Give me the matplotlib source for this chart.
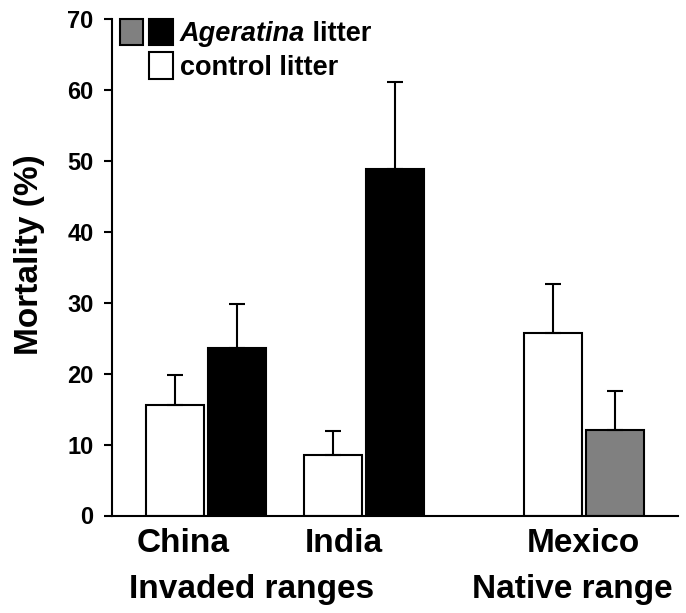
import matplotlib
matplotlib.use("Agg")
import matplotlib.pyplot as plt
from matplotlib.patches import Rectangle
from matplotlib.transforms import blended_transform_factory

plt.rcParams['font.family'] = ['Liberation Sans', 'DejaVu Sans']
plt.rcParams['font.weight'] = 'bold'

# ---- data ----
regions = ["China", "India", "Mexico"]
range_labels = ["Invaded ranges", "Native range"]
control_mean = [15.6, 8.6, 25.8]
control_se = [4.2, 3.3, 6.8]
litter_mean = [23.6, 48.9, 12.0]
litter_se = [6.2, 12.2, 5.5]
litter_colors = ["black", "black", "#808080"]
yticks = [0, 10, 20, 30, 40, 50, 60, 70]

# ---- layout ----
group_x = [1.0, 2.0, 3.39]
width = 0.367
off = 0.197
W, H = 686, 613

fig = plt.figure(figsize=(W / 100, H / 100), dpi=100)
ax = fig.add_axes([111.7 / W, 1 - 515.5 / H, (678 - 111.7) / W, (515.5 - 19) / H])

ctrl_x = [g - off for g in group_x]
lit_x = [g + off for g in group_x]
err_kw = dict(ecolor="black", elinewidth=1.5, capsize=6, capthick=1.5)

ax.bar(ctrl_x, control_mean, width, color="white", edgecolor="black", linewidth=1.5,
       yerr=[[0] * 3, control_se], error_kw=err_kw, zorder=2)
ax.bar(lit_x, litter_mean, width, color=litter_colors, edgecolor="black", linewidth=1.5,
       yerr=[[0] * 3, litter_se], error_kw=err_kw, zorder=2)

ax.set_xlim(0.403, 3.987)
ax.set_ylim(0, 70)
ax.set_yticks(yticks)
ax.tick_params(axis="y", length=6, width=1.5, pad=7, labelsize=17)
for lbl in ax.get_yticklabels():
    lbl.set_fontweight("bold")

ax.spines[["top", "right"]].set_visible(False)
ax.spines["left"].set_linewidth(1.5)
ax.spines["bottom"].set_linewidth(1.5)

# region names under the bars
ax.set_xticks([0.854, 1.873, 3.386])
ax.set_xticklabels(regions, fontsize=24, fontweight="bold")
ax.tick_params(axis="x", length=0, pad=9)

# range names on a second row
trans = blended_transform_factory(ax.transData, fig.transFigure)
ax.text(1.291, 1 - 598 / H, range_labels[0], transform=trans, ha="center",
        va="baseline", fontsize=24, fontweight="bold")
ax.text(3.316, 1 - 598 / H, range_labels[1], transform=trans, ha="center",
        va="baseline", fontsize=24, fontweight="bold")

fig.text(30 / W, 1 - 255 / H, "Mortality (%)", rotation=90, ha="center", va="center",
         fontsize=24, fontweight="bold")

# legend boxes
def box(x0, y0, x1, y1, fc):
    fig.add_artist(Rectangle((x0 / W, 1 - y1 / H), (x1 - x0) / W, (y1 - y0) / H,
                             facecolor=fc, edgecolor="black", linewidth=1.5,
                             transform=fig.transFigure))

box(120, 19, 143, 45, "#808080")
box(149, 19, 173, 45, "black")
box(149, 52, 173, 79, "white")

t1 = fig.text(180 / W, 1 - 41 / H, "Ageratina", fontsize=19.5, fontweight="bold",
              style="italic", va="baseline")
ax.annotate(" litter", xy=(1, 0), xycoords=t1, va="bottom", ha="left",
            fontsize=19.5, fontweight="bold", annotation_clip=False)
fig.text(180 / W, 1 - 75 / H, "control litter", fontsize=19.5, fontweight="bold",
         va="baseline")

fig.savefig("out.png", dpi=100)
